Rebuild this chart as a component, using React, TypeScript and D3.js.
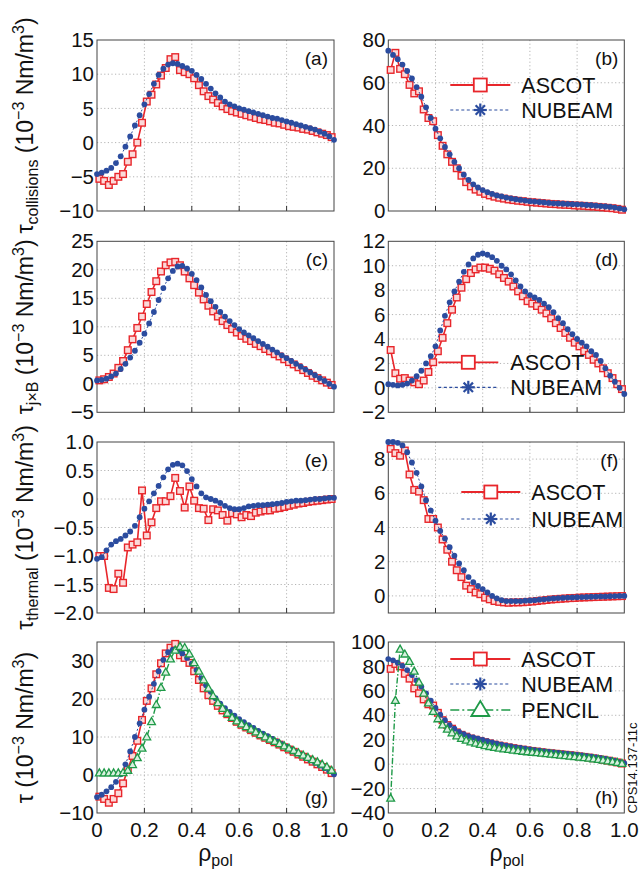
import React from 'react';
import * as d3 from 'd3';

// ---------- data ----------
const xAscot = [0.01,0.03,0.05,0.07,0.09,0.11,0.13,0.15,0.17,0.19,0.21,0.23,0.25,0.27,0.29,0.31,0.33,0.35,0.37,0.39,0.41,0.43,0.45,0.47,0.49,0.51,0.53,0.55,0.57,0.59,0.61,0.63,0.65,0.67,0.69,0.71,0.73,0.75,0.77,0.79,0.81,0.83,0.85,0.87,0.89,0.91,0.93,0.95,0.97,0.99];
const xNubeam = [0,0.02,0.04,0.06,0.08,0.1,0.12,0.14,0.16,0.18,0.2,0.22,0.24,0.26,0.28,0.3,0.32,0.34,0.36,0.38,0.4,0.42,0.44,0.46,0.48,0.5,0.52,0.54,0.56,0.58,0.6,0.62,0.64,0.66,0.68,0.7,0.72,0.74,0.76,0.78,0.8,0.82,0.84,0.86,0.88,0.9,0.92,0.94,0.96,0.98,1.0];
const xPencil = [0.01,0.03,0.05,0.07,0.09,0.11,0.13,0.15,0.17,0.19,0.21,0.23,0.25,0.27,0.29,0.31,0.33,0.35,0.37,0.39,0.41,0.43,0.45,0.47,0.49,0.51,0.53,0.55,0.57,0.59,0.61,0.63,0.65,0.67,0.69,0.71,0.73,0.75,0.77,0.79,0.81,0.83,0.85,0.87,0.89,0.91,0.93,0.95,0.97,0.99];

// (a) collisions
const aAscot = [-5.3,-5.6,-6.2,-5.6,-5.0,-4.6,-2.8,-1.7,0.0,2.9,6.0,7.0,8.5,9.8,10.9,12.2,12.5,10.6,10.3,10.0,9.4,8.4,7.5,6.8,6.3,5.8,5.3,4.9,4.6,4.4,4.2,4.0,3.8,3.6,3.4,3.3,3.1,2.9,2.8,2.6,2.4,2.3,2.2,2.0,1.9,1.7,1.5,1.3,1.1,0.8];
const aNubeam = [-4.6,-4.4,-4.1,-3.7,-3.0,-2.0,-0.6,0.9,2.5,4.0,5.6,7.1,8.6,9.9,10.8,11.4,11.6,11.5,11.2,10.9,10.5,9.9,9.3,8.6,7.9,7.2,6.6,6.0,5.6,5.3,5.0,4.8,4.6,4.4,4.2,4.0,3.8,3.6,3.5,3.3,3.1,2.9,2.7,2.5,2.3,2.1,1.9,1.6,1.3,0.9,0.4];
// (b) collisions, right
const bAscot = [66.0,74.0,66.5,64.0,59.0,55.0,56.0,47.5,43.5,42.0,35.5,30.5,26.5,23.0,20.0,16.5,13.5,11.5,10.0,9.0,8.0,7.3,6.7,6.2,5.8,5.4,5.1,4.8,4.6,4.3,4.1,3.9,3.7,3.5,3.3,3.2,3.0,2.9,2.8,2.6,2.5,2.4,2.2,2.1,1.9,1.7,1.5,1.3,1.0,0.6];
const bNubeam = [75.0,73.0,71.0,68.5,65.5,62.0,58.0,53.5,48.5,43.5,38.5,34.0,30.0,26.5,23.0,20.0,17.0,14.5,12.5,11.0,9.8,8.8,8.0,7.3,6.8,6.3,5.9,5.5,5.2,4.9,4.6,4.4,4.2,4.0,3.8,3.6,3.5,3.4,3.3,3.2,3.1,3.0,2.8,2.7,2.5,2.3,2.1,1.9,1.6,1.2,0.8];
// (c) jxB
const cAscot = [0.6,0.8,1.2,1.8,2.8,4.0,5.9,7.8,9.8,11.8,14.0,16.1,18.0,19.7,20.8,21.3,21.4,20.8,19.7,18.5,17.3,16.0,14.8,13.7,12.7,11.8,11.0,10.3,9.6,9.0,8.4,7.9,7.5,7.0,6.6,6.1,5.7,5.2,4.8,4.3,3.8,3.4,2.9,2.4,1.9,1.4,1.0,0.6,0.2,-0.2];
const cNubeam = [0.6,0.7,0.9,1.3,1.8,2.6,3.5,4.6,5.8,7.2,8.8,10.6,12.6,14.7,16.8,18.5,19.8,20.6,20.7,20.2,19.3,18.2,16.9,15.6,14.5,13.5,12.6,11.8,11.0,10.3,9.6,9.0,8.5,8.0,7.5,7.0,6.5,6.0,5.5,5.0,4.5,4.0,3.5,3.0,2.5,2.0,1.5,1.0,0.5,0.0,-0.5];
// (d) jxB, right
const dAscot = [3.1,1.2,0.75,0.8,0.6,0.45,0.3,0.6,1.3,2.1,3.0,4.1,5.3,6.4,7.4,8.2,8.9,9.4,9.7,9.85,9.85,9.75,9.6,9.3,9.0,8.7,8.3,7.9,7.5,7.1,6.9,6.7,6.4,6.1,5.7,5.3,4.9,4.5,4.1,3.7,3.4,3.0,2.7,2.3,2.0,1.6,1.2,0.8,0.3,-0.1];
const dNubeam = [0.3,0.25,0.2,0.25,0.35,0.6,0.95,1.4,2.0,2.6,3.4,4.7,5.9,7.0,7.9,8.7,9.5,10.1,10.6,10.9,11.0,10.9,10.7,10.4,10.0,9.7,9.3,8.8,8.3,7.9,7.6,7.4,7.2,6.9,6.6,6.2,5.7,5.3,4.8,4.4,4.0,3.7,3.4,3.0,2.7,2.2,1.6,1.0,0.5,0.0,-0.5];
// (e) thermal
const eAscot = [-1.0,-1.0,-1.56,-1.58,-1.31,-1.47,-0.85,-0.8,-0.76,0.15,-0.64,-0.41,-0.16,-0.04,-0.04,0.05,0.37,0.14,-0.15,0.22,-0.03,-0.16,-0.17,-0.37,-0.18,-0.2,-0.28,-0.38,-0.25,-0.27,-0.32,-0.28,-0.3,-0.24,-0.22,-0.2,-0.2,-0.17,-0.16,-0.14,-0.12,-0.1,-0.08,-0.07,-0.05,-0.04,-0.03,-0.02,-0.01,0.0];
const eNubeam = [-1.05,-1.02,-0.9,-0.8,-0.74,-0.7,-0.64,-0.57,-0.47,-0.32,-0.17,-0.04,0.1,0.23,0.38,0.52,0.6,0.62,0.59,0.49,0.35,0.22,0.1,0.03,0.0,-0.03,-0.07,-0.12,-0.16,-0.18,-0.18,-0.16,-0.13,-0.12,-0.11,-0.11,-0.1,-0.09,-0.08,-0.07,-0.05,-0.04,-0.03,-0.03,-0.02,-0.01,0.0,0.0,0.01,0.02,0.02];
// (f) thermal, right
const fAscot = [8.6,8.35,8.2,8.5,7.1,6.2,6.1,5.6,4.5,4.5,4.0,3.3,2.7,2.0,1.5,1.1,0.6,0.4,0.2,0.1,-0.1,-0.2,-0.3,-0.35,-0.38,-0.4,-0.38,-0.38,-0.37,-0.35,-0.33,-0.3,-0.27,-0.24,-0.21,-0.19,-0.17,-0.15,-0.13,-0.12,-0.1,-0.09,-0.08,-0.07,-0.06,-0.05,-0.04,-0.03,-0.02,-0.01];
const fNubeam = [9.0,9.0,8.95,8.8,8.4,7.8,7.2,6.4,5.6,5.0,4.4,3.8,3.35,2.85,2.35,1.9,1.5,1.1,0.8,0.58,0.4,0.2,0.0,-0.15,-0.25,-0.3,-0.3,-0.3,-0.3,-0.28,-0.27,-0.25,-0.22,-0.2,-0.17,-0.15,-0.13,-0.12,-0.1,-0.09,-0.08,-0.07,-0.06,-0.05,-0.04,-0.03,-0.03,-0.02,-0.01,0.0,0.0];
// (g) total
const gAscot = [-5.7,-6.3,-7.3,-6.3,-4.8,-2.2,1.5,5.0,9.0,14.5,19.5,22.8,26.5,29.4,32.0,33.5,34.5,31.5,30.8,29.5,27.3,25.0,22.8,21.0,19.5,18.2,17.0,16.0,15.0,14.0,13.2,12.5,11.8,11.1,10.4,9.8,9.2,8.6,8.0,7.3,6.7,6.1,5.4,4.8,4.1,3.5,2.8,2.1,1.4,0.5];
const gNubeam = [-5.8,-5.2,-4.3,-3.2,-1.8,0.2,2.8,6.2,10.0,13.6,17.2,20.6,24.0,27.3,30.3,32.3,33.0,32.6,32.0,30.8,29.3,27.6,25.5,23.6,21.9,20.2,18.8,17.6,16.6,15.6,14.7,13.9,13.1,12.4,11.6,10.9,10.2,9.5,8.8,8.1,7.4,6.7,6.0,5.3,4.6,3.9,3.2,2.5,1.8,1.0,0.2];
const gPencil = [0.5,0.5,0.5,0.5,0.5,0.6,1.2,2.7,4.5,7.0,10.0,14.0,18.5,23.0,27.0,30.5,32.8,33.8,33.5,31.8,29.5,27.3,25.0,22.8,20.8,19.0,17.5,16.2,15.1,14.2,13.4,12.7,12.0,11.3,10.6,10.0,9.4,8.8,8.2,7.6,7.0,6.4,5.8,5.2,4.6,4.0,3.4,2.8,2.1,1.2];
// (h) total, right
const hAscot = [78,82,80,74,70,62,58,53,49,48,42,36,32,29,26,24,22.5,21,20,19,18,17,16,15.2,14.5,13.8,13.1,12.5,11.9,11.3,10.8,10.3,9.8,9.3,8.9,8.5,8.1,7.7,7.3,6.9,6.4,5.9,5.4,4.8,4.2,3.6,2.9,2.2,1.4,0.5];
const hNubeam = [86,85,83,80.5,77,73,68.5,63.5,58,52,46,40.5,36,32,29,26.5,24.5,23,21.8,20.8,19.8,18.8,17.8,16.8,16,15.2,14.5,13.8,13.2,12.6,12,11.5,11,10.5,10,9.6,9.2,8.8,8.4,8,7.6,7.1,6.6,6.1,5.5,4.9,4.2,3.4,2.6,1.7,0.8];
const hPencil = [-28,52,94,90,84,76,67,58,50,43,37,32,28.5,25.5,23,21,19.5,18,17,16,15,14.3,13.6,13,12.4,11.9,11.4,10.9,10.4,10,9.6,9.2,8.8,8.4,8,7.6,7.2,6.8,6.4,6,5.6,5.2,4.7,4.2,3.7,3.2,2.6,2,1.3,0.5];

const yTicksA = [-10, -5, 0, 5, 10, 15];
const yTicksB = [0, 20, 40, 60, 80];
const yTicksC = [-5, 0, 5, 10, 15, 20, 25];
const yTicksD = [-2, 0, 2, 4, 6, 8, 10, 12];
const yTicksE = [-2, -1.5, -1, -0.5, 0, 0.5, 1];
const yTickLabelsE = ['−2.0', '−1.5', '−1.0', '−0.5', '0', '0.5', '1.0'];
const yTicksF = [0, 2, 4, 6, 8];
const yTicksG = [-10, 0, 10, 20, 30];
const yTicksH = [-40, -20, 0, 20, 40, 60, 80, 100];
const xTicks = [0, 0.2, 0.4, 0.6, 0.8, 1.0];
const xTickLabels = ['0', '0.2', '0.4', '0.6', '0.8', '1.0'];
const seriesNames = ['ASCOT', 'NUBEAM', 'PENCIL'];
const panelTags = ['(a)', '(b)', '(c)', '(d)', '(e)', '(f)', '(g)', '(h)'];

// ---------- styles ----------
const RED = '#e8262b';
const BLUE = '#2b4c9f';
const GREEN = '#1f9a48';
const FONT = "'Liberation Sans', Arial, Helvetica, sans-serif";

type Kind = 'ascot' | 'nubeam' | 'pencil';
interface Series { xs: number[]; ys: number[]; kind: Kind; }

const fmt = (v: number) => (v < 0 ? '−' + Math.abs(v) : String(v));

function Square({ cx, cy, s, sw }: { cx: number; cy: number; s: number; sw: number }) {
  return <rect x={cx - s / 2} y={cy - s / 2} width={s} height={s} fill="#fbd9d9" stroke={RED} strokeWidth={sw} />;
}
function Tri({ cx, cy, s, sw }: { cx: number; cy: number; s: number; sw: number }) {
  const h = s * 0.9;
  return <path d={`M${cx},${cy - h * 0.6}L${cx + s / 2},${cy + h * 0.4}L${cx - s / 2},${cy + h * 0.4}Z`} fill="#d9f0df" stroke={GREEN} strokeWidth={sw} />;
}
function Star({ cx, cy, r }: { cx: number; cy: number; r: number }) {
  const d = r * 0.72;
  return (
    <g stroke={BLUE} strokeWidth={2.2}>
      <line x1={cx - r} y1={cy} x2={cx + r} y2={cy} />
      <line x1={cx} y1={cy - r} x2={cx} y2={cy + r} />
      <line x1={cx - d} y1={cy - d} x2={cx + d} y2={cy + d} />
      <line x1={cx - d} y1={cy + d} x2={cx + d} y2={cy - d} />
    </g>
  );
}

interface LegendCfg { x0: number; x1: number; tx: number; ys: number[]; }

interface PanelProps {
  left: number; top: number; width: number; height: number;
  yDomain: [number, number]; yTicks: number[]; yTickLabels?: string[];
  series: Series[]; tag: string; tagBottom?: boolean; legend?: LegendCfg; showX?: boolean;
}

function Panel(p: PanelProps) {
  const x = d3.scaleLinear().domain([0, 1]).range([p.left, p.left + p.width]);
  const y = d3.scaleLinear().domain(p.yDomain).range([p.top + p.height, p.top]);
  const bottom = p.top + p.height;
  const right = p.left + p.width;
  const line = d3.line<[number, number]>().x(d => x(d[0])).y(d => y(d[1]));
  const order: Kind[] = ['ascot', 'nubeam', 'pencil'];
  const sorted = [...p.series].sort((a, b) => order.indexOf(a.kind) - order.indexOf(b.kind));
  return (
    <g>
      {/* grid */}
      <g stroke="#b4b4b4" strokeWidth={1} strokeDasharray="1.2,2.4">
        {xTicks.filter(t => t > 0 && t < 1).map(t => (
          <line key={'gx' + t} x1={x(t)} x2={x(t)} y1={p.top} y2={bottom} />
        ))}
        {p.yTicks.filter(t => t > p.yDomain[0] && t < p.yDomain[1]).map(t => (
          <line key={'gy' + t} x1={p.left} x2={right} y1={y(t)} y2={y(t)} />
        ))}
      </g>
      {/* ticks */}
      <g stroke="#333" strokeWidth={1}>
        {xTicks.filter(t => t > 0 && t < 1).map(t => (
          <line key={'tx' + t} x1={x(t)} x2={x(t)} y1={bottom} y2={bottom - 5} />
        ))}
      </g>
      {/* frame */}
      <rect x={p.left} y={p.top} width={p.width} height={p.height} fill="none" stroke="#444" strokeWidth={1} />
      {/* y tick labels */}
      <g fontFamily={FONT} fontSize={20.5} fill="#111" textAnchor="end">
        {p.yTicks.map((t, i) => (
          <text key={'yl' + t} x={p.left - 3} y={y(t)} dy="0.35em">
            {p.yTickLabels ? p.yTickLabels[i] : fmt(t)}
          </text>
        ))}
      </g>
      {p.showX && (
        <g fontFamily={FONT} fontSize={20.5} fill="#111" textAnchor="middle">
          {xTicks.map((t, i) => (
            <text key={'xl' + t} x={x(t)} y={bottom + 23.5}>{xTickLabels[i]}</text>
          ))}
        </g>
      )}
      {/* series */}
      {sorted.map((s, si) => {
        const pts = s.xs.map((v, i) => [v, s.ys[i]] as [number, number]);
        if (s.kind === 'ascot') {
          return (
            <g key={si}>
              <path d={line(pts) || ''} fill="none" stroke={RED} strokeWidth={1.6} />
              {pts.map((d, i) => <Square key={i} cx={x(d[0])} cy={y(d[1])} s={6.6} sw={1.4} />)}
            </g>
          );
        }
        if (s.kind === 'nubeam') {
          return (
            <g key={si}>
              <path d={line(pts) || ''} fill="none" stroke={BLUE} strokeWidth={1} strokeDasharray="2,2" />
              {pts.map((d, i) => <circle key={i} cx={x(d[0])} cy={y(d[1])} r={2.9} fill={BLUE} />)}
            </g>
          );
        }
        return (
          <g key={si}>
            <path d={line(pts) || ''} fill="none" stroke={GREEN} strokeWidth={1.4} strokeDasharray="6,2,1.5,2" />
            {pts.map((d, i) => <Tri key={i} cx={x(d[0])} cy={y(d[1])} s={7.8} sw={1.3} />)}
          </g>
        );
      })}
      {/* panel tag */}
      <text x={right - 6} y={p.tagBottom ? bottom - 9 : p.top + 25} textAnchor="end" fontFamily={FONT} fontSize={19} fill="#111">{p.tag}</text>
      {/* legend */}
      {p.legend && p.series.map((s, i) => {
        const lg = p.legend!;
        const ly = p.top + lg.ys[i];
        const lx0 = p.left + lg.x0, lx1 = p.left + lg.x1;
        const mx = (lx0 + lx1) / 2;
        return (
          <g key={'lg' + i}>
            {s.kind === 'ascot' && <>
              <line x1={lx0} x2={lx1} y1={ly} y2={ly} stroke={RED} strokeWidth={1.8} />
              <rect x={mx - 6.5} y={ly - 6.5} width={13} height={13} fill="#fff" stroke={RED} strokeWidth={1.8} />
            </>}
            {s.kind === 'nubeam' && <>
              <line x1={lx0} x2={lx1} y1={ly} y2={ly} stroke={BLUE} strokeWidth={1.2} strokeDasharray="3,2.5" />
              <Star cx={mx} cy={ly} r={6.5} />
            </>}
            {s.kind === 'pencil' && <>
              <line x1={lx0} x2={lx1} y1={ly} y2={ly} stroke={GREEN} strokeWidth={1.6} strokeDasharray="9,3,2,3" />
              <path d={`M${mx},${ly - 9}L${mx + 9},${ly + 6}L${mx - 9},${ly + 6}Z`} fill="#fff" stroke={GREEN} strokeWidth={1.8} />
            </>}
            <text x={p.left + lg.tx} y={ly} dy="0.36em" fontFamily={FONT} fontSize={21.5} fill="#111">
              {seriesNames[['ascot', 'nubeam', 'pencil'].indexOf(s.kind)]}
            </text>
          </g>
        );
      })}
    </g>
  );
}

function YLabel({ cy, sub }: { cy: number; sub: string | null }) {
  return (
    <text transform={`translate(33,${cy}) rotate(-90)`} textAnchor="middle" fontFamily={FONT} fontSize={23} fill="#111">
      <tspan>τ</tspan>
      {sub && <tspan fontSize={16} dy={5}>{sub}</tspan>}
      <tspan dy={sub ? -5 : 0}>{' (10'}</tspan>
      <tspan fontSize={16} dy={-9}>−3</tspan>
      <tspan dy={9}>{' Nm/m'}</tspan>
      <tspan fontSize={16} dy={-9}>3</tspan>
      <tspan dy={9}>)</tspan>
    </text>
  );
}

function XLabel({ cx }: { cx: number }) {
  return (
    <text x={cx} y={861} textAnchor="middle" fontFamily={FONT} fontSize={23} fill="#111">
      <tspan>ρ</tspan>
      <tspan fontSize={16} dy={5}>pol</tspan>
    </text>
  );
}

export default function App() {
  const LX = 97, RX = 388.3, PW = 237, PH = 171;
  const rows = [40, 241.3, 442, 642];
  return (
    <svg width={640} height={874} style={{ position: 'absolute', left: 0, top: 0, background: '#fff' }}>
      <rect width={640} height={874} fill="#fff" />
      <Panel left={LX} top={rows[0]} width={PW} height={PH} yDomain={[-10, 15]} yTicks={yTicksA}
        series={[{ xs: xAscot, ys: aAscot, kind: 'ascot' }, { xs: xNubeam, ys: aNubeam, kind: 'nubeam' }]} tag={panelTags[0]} />
      <Panel left={RX} top={rows[0]} width={PW - 1} height={PH} yDomain={[0, 80]} yTicks={yTicksB}
        series={[{ xs: xAscot, ys: bAscot, kind: 'ascot' }, { xs: xNubeam, ys: bNubeam, kind: 'nubeam' }]} tag={panelTags[1]}
        legend={{ x0: 62, x1: 122, tx: 133, ys: [45, 70] }} />
      <Panel left={LX} top={rows[1]} width={PW} height={PH} yDomain={[-5, 25]} yTicks={yTicksC}
        series={[{ xs: xAscot, ys: cAscot, kind: 'ascot' }, { xs: xNubeam, ys: cNubeam, kind: 'nubeam' }]} tag={panelTags[2]} />
      <Panel left={RX} top={rows[1]} width={PW - 1} height={PH} yDomain={[-2, 12]} yTicks={yTicksD}
        series={[{ xs: xAscot, ys: dAscot, kind: 'ascot' }, { xs: xNubeam, ys: dNubeam, kind: 'nubeam' }]} tag={panelTags[3]}
        legend={{ x0: 50, x1: 110, tx: 122, ys: [121, 146] }} />
      <Panel left={LX} top={rows[2]} width={PW} height={PH} yDomain={[-2, 1]} yTicks={yTicksE} yTickLabels={yTickLabelsE}
        series={[{ xs: xAscot, ys: eAscot, kind: 'ascot' }, { xs: xNubeam, ys: eNubeam, kind: 'nubeam' }]} tag={panelTags[4]} />
      <Panel left={RX} top={rows[2]} width={PW - 1} height={PH} yDomain={[-1, 9]} yTicks={yTicksF}
        series={[{ xs: xAscot, ys: fAscot, kind: 'ascot' }, { xs: xNubeam, ys: fNubeam, kind: 'nubeam' }]} tag={panelTags[5]}
        legend={{ x0: 73, x1: 132, tx: 143, ys: [50, 77] }} />
      <Panel left={LX} top={rows[3]} width={PW} height={PH} yDomain={[-10, 35]} yTicks={yTicksG}
        series={[{ xs: xAscot, ys: gAscot, kind: 'ascot' }, { xs: xNubeam, ys: gNubeam, kind: 'nubeam' }, { xs: xPencil, ys: gPencil, kind: 'pencil' }]}
        tag={panelTags[6]} tagBottom showX />
      <Panel left={RX} top={rows[3]} width={PW - 1} height={PH} yDomain={[-40, 100]} yTicks={yTicksH}
        series={[{ xs: xAscot, ys: hAscot, kind: 'ascot' }, { xs: xNubeam, ys: hNubeam, kind: 'nubeam' }, { xs: xPencil, ys: hPencil, kind: 'pencil' }]}
        tag={panelTags[7]} tagBottom showX legend={{ x0: 62, x1: 122, tx: 133, ys: [17, 42, 68] }} />
      <YLabel cy={rows[0] + PH / 2} sub="collisions" />
      <YLabel cy={rows[1] + PH / 2} sub="j×B" />
      <YLabel cy={rows[2] + PH / 2} sub="thermal" />
      <YLabel cy={rows[3] + PH / 2} sub={null} />
      <XLabel cx={LX + PW / 2} />
      <XLabel cx={RX + PW / 2} />
      <text transform="translate(637,768) rotate(-90)" textAnchor="middle" fontFamily={FONT} fontSize={13} fill="#111">CPS14.137-11c</text>
    </svg>
  );
}
